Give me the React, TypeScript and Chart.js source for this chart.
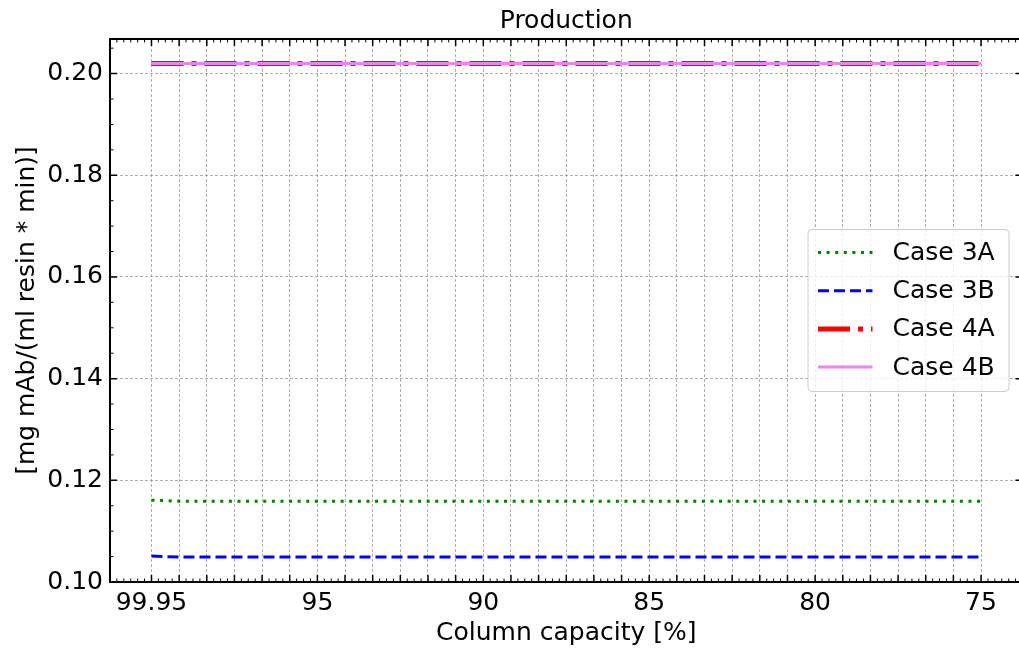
import { useEffect, useRef } from 'react';
import { Chart, registerables } from 'chart.js';

Chart.register(...registerables);

// Column capacity [%] (x values, plotted on a reversed axis)
const capacity = [
  99.95, 99.1183, 98.2867, 97.455, 96.6233, 95.7917, 94.96, 94.1283, 93.2967, 92.465,
  91.6333, 90.8017, 89.97, 89.1383, 88.3067, 87.475, 86.6433, 85.8117, 84.98, 84.1483,
  83.3167, 82.485, 81.6533, 80.8217, 79.99, 79.1583, 78.3267, 77.495, 76.6633, 75.8317,
  75.0,
];

// Labels shown at the major x ticks (one per capacity value)
const xTickLabels = [
  '99.95', '', '', '', '', '', '95', '', '', '', '', '', '90', '', '', '', '', '', '85',
  '', '', '', '', '', '80', '', '', '', '', '', '75',
];

const yTicks = [0.1, 0.12, 0.14, 0.16, 0.18, 0.2];

const case3A = [
  0.1161, 0.1159, 0.1159, 0.1159, 0.1159, 0.1159, 0.1159, 0.1159, 0.1159, 0.1159,
  0.1159, 0.1159, 0.1159, 0.1159, 0.1159, 0.1159, 0.1159, 0.1159, 0.1159, 0.1159,
  0.1159, 0.1159, 0.1159, 0.1159, 0.1159, 0.1159, 0.1159, 0.1159, 0.1159, 0.1159,
  0.1159,
];
const case3B = [
  0.1051, 0.1049, 0.1049, 0.1049, 0.1049, 0.1049, 0.1049, 0.1049, 0.1049, 0.1049,
  0.1049, 0.1049, 0.1049, 0.1049, 0.1049, 0.1049, 0.1049, 0.1049, 0.1049, 0.1049,
  0.1049, 0.1049, 0.1049, 0.1049, 0.1049, 0.1049, 0.1049, 0.1049, 0.1049, 0.1049,
  0.1049,
];
const case4A = [
  0.202, 0.202, 0.202, 0.202, 0.202, 0.202, 0.202, 0.202, 0.202, 0.202,
  0.202, 0.202, 0.202, 0.202, 0.202, 0.202, 0.202, 0.202, 0.202, 0.202,
  0.202, 0.202, 0.202, 0.202, 0.202, 0.202, 0.202, 0.202, 0.202, 0.202,
  0.202,
];
const case4B = [
  0.202, 0.202, 0.202, 0.202, 0.202, 0.202, 0.202, 0.202, 0.202, 0.202,
  0.202, 0.202, 0.202, 0.202, 0.202, 0.202, 0.202, 0.202, 0.202, 0.202,
  0.202, 0.202, 0.202, 0.202, 0.202, 0.202, 0.202, 0.202, 0.202, 0.202,
  0.202,
];

const seriesNames = ['Case 3A', 'Case 3B', 'Case 4A', 'Case 4B'];

const FONT = '"DejaVu Sans", "Liberation Sans", sans-serif';

const toPoints = (ys: number[]) => ys.map((v, i) => ({ x: capacity[i], y: v }));

const framePlugin = {
  id: 'frame',
  afterDraw(chart: any) {
    const { ctx, chartArea: a, scales } = chart;
    const xs = scales.x;
    const ys = scales.y;
    ctx.save();
    ctx.strokeStyle = '#000';

    const MAJ = 7;
    const MIN = 3.5;
    const drawV = (px: number, len: number, w: number) => {
      ctx.lineWidth = w;
      ctx.beginPath();
      ctx.moveTo(px, a.bottom);
      ctx.lineTo(px, a.bottom - len);
      ctx.moveTo(px, a.top);
      ctx.lineTo(px, a.top + len);
      ctx.stroke();
    };
    const drawH = (py: number, len: number, w: number) => {
      ctx.lineWidth = w;
      ctx.beginPath();
      ctx.moveTo(a.left, py);
      ctx.lineTo(a.left + len, py);
      ctx.moveTo(a.right, py);
      ctx.lineTo(a.right - len, py);
      ctx.stroke();
    };

    // x ticks
    const n = capacity.length - 1;
    const d = (capacity[0] - capacity[n]) / n / 4;
    const lo = Math.min(xs.min, xs.max);
    const hi = Math.max(xs.min, xs.max);
    const kStart = Math.ceil((lo - capacity[n]) / d);
    const kEnd = Math.floor((hi - capacity[n]) / d);
    for (let k = kStart; k <= kEnd; k++) {
      const isMajor = k % 4 === 0 && k >= 0 && k <= n * 4;
      if (isMajor) continue;
      const v = capacity[n] + k * d;
      drawV(xs.getPixelForValue(v), MIN, 1);
    }
    capacity.forEach((v) => drawV(xs.getPixelForValue(v), MAJ, 1.5));

    // y ticks
    const ystep = (yTicks[1] - yTicks[0]) / 4;
    for (let k = 0; ; k++) {
      const v = yTicks[0] + k * ystep;
      if (v > ys.max + 1e-9) break;
      if (v < ys.min - 1e-9) continue;
      const major = k % 4 === 0;
      drawH(ys.getPixelForValue(v), major ? MAJ : MIN, major ? 1.5 : 1);
    }

    // spines
    ctx.lineWidth = 2;
    ctx.strokeRect(a.left, a.top, a.right - a.left, a.bottom - a.top);

    // legend (center right, inside axes)
    const boxW = 201;
    const boxH = 162;
    const bx = a.right - 13.5 - boxW;
    const by = (a.top + a.bottom) / 2 - boxH / 2;
    const r = 4;
    ctx.beginPath();
    ctx.moveTo(bx + r, by);
    ctx.lineTo(bx + boxW - r, by);
    ctx.quadraticCurveTo(bx + boxW, by, bx + boxW, by + r);
    ctx.lineTo(bx + boxW, by + boxH - r);
    ctx.quadraticCurveTo(bx + boxW, by + boxH, bx + boxW - r, by + boxH);
    ctx.lineTo(bx + r, by + boxH);
    ctx.quadraticCurveTo(bx, by + boxH, bx, by + boxH - r);
    ctx.lineTo(bx, by + r);
    ctx.quadraticCurveTo(bx, by, bx + r, by);
    ctx.closePath();
    ctx.fillStyle = 'rgba(255,255,255,0.8)';
    ctx.fill();
    ctx.lineWidth = 1;
    ctx.strokeStyle = '#cccccc';
    ctx.stroke();

    chart.data.datasets.forEach((ds: any, i: number) => {
      const rowY = by + 23 + i * 38.2;
      ctx.save();
      ctx.strokeStyle = ds.borderColor;
      ctx.lineWidth = ds.borderWidth;
      ctx.lineCap = 'butt';
      ctx.setLineDash(ds.borderDash || []);
      ctx.beginPath();
      ctx.moveTo(bx + 10, rowY);
      ctx.lineTo(bx + 64.5, rowY);
      ctx.stroke();
      ctx.restore();
      ctx.fillStyle = '#000';
      ctx.font = `25px ${FONT}`;
      ctx.textAlign = 'left';
      ctx.textBaseline = 'middle';
      ctx.fillText(ds.label, bx + 84.5, rowY + 1);
    });

    ctx.restore();
  },
};

export default function App() {
  const canvasRef = useRef<HTMLCanvasElement | null>(null);

  useEffect(() => {
    document.body.style.margin = '0';
    const canvas = canvasRef.current;
    if (!canvas) return;
    const chart = new Chart(canvas, {
      type: 'line',
      data: {
        datasets: [
          {
            label: seriesNames[0],
            data: toPoints(case3A),
            borderColor: '#008000',
            borderWidth: 3,
            borderDash: [3, 5.6],
            pointRadius: 0,
            fill: false,
            order: 4,
          },
          {
            label: seriesNames[1],
            data: toPoints(case3B),
            borderColor: '#0000ff',
            borderWidth: 3,
            borderDash: [11, 5],
            pointRadius: 0,
            fill: false,
            order: 3,
          },
          {
            label: seriesNames[2],
            data: toPoints(case4A),
            borderColor: '#ff0000',
            borderWidth: 5,
            borderDash: [32, 8, 5, 8],
            pointRadius: 0,
            fill: false,
            order: 2,
          },
          {
            label: seriesNames[3],
            data: toPoints(case4B),
            borderColor: '#ee82ee',
            borderWidth: 3,
            pointRadius: 0,
            fill: false,
            order: 1,
          },
        ],
      },
      options: {
        animation: false,
        responsive: false,
        devicePixelRatio: 1,
        layout: { padding: { left: 0, right: 1.5, top: 0, bottom: 0 } },
        plugins: {
          legend: { display: false },
          tooltip: { enabled: false },
          title: {
            display: true,
            text: 'Production',
            color: '#000',
            fullSize: false,
            font: { family: FONT, size: 25, weight: 'normal' },
            padding: { top: 6, bottom: 3 },
          },
        },
        scales: {
          x: {
            type: 'linear',
            reverse: true,
            min: 73.7525,
            max: 101.1975,
            afterBuildTicks: (scale: any) => {
              scale.ticks = capacity.map((v) => ({ value: v }));
            },
            afterFit: (scale: any) => {
              scale.height = 67;
            },
            ticks: {
              autoSkip: false,
              maxRotation: 0,
              padding: 6,
              color: '#000',
              font: { family: FONT, size: 25 },
              callback: (_v: any, i: number) => xTickLabels[i],
            },
            grid: {
              drawTicks: false,
              color: '#999999',
              lineWidth: 0.8,
            },
            border: { display: false, dash: [3, 2] },
            title: {
              display: true,
              text: 'Column capacity [%]',
              color: '#000',
              font: { family: FONT, size: 25 },
              padding: { top: 0, bottom: 1 },
            },
          },
          y: {
            type: 'linear',
            min: 0.1,
            max: 0.2068,
            afterBuildTicks: (scale: any) => {
              scale.ticks = yTicks.map((v) => ({ value: v }));
            },
            afterFit: (scale: any) => {
              scale.width = 110;
            },
            ticks: {
              padding: 7,
              color: '#000',
              font: { family: FONT, size: 25 },
              callback: (v: any) => Number(v).toFixed(2),
            },
            grid: {
              drawTicks: false,
              color: '#999999',
              lineWidth: 0.8,
            },
            border: { display: false, dash: [3, 2] },
            title: {
              display: true,
              text: '[mg mAb/(ml resin * min)]',
              color: '#000',
              font: { family: FONT, size: 25 },
              padding: { top: 12, bottom: 0 },
            },
          },
        },
      },
      plugins: [framePlugin],
    } as any);
    return () => chart.destroy();
  }, []);

  return (
    <div
      style={{
        position: 'fixed',
        left: 0,
        top: 0,
        width: 1019,
        height: 649,
        overflow: 'hidden',
        background: '#fff',
      }}
    >
      <canvas ref={canvasRef} width={1024} height={649} style={{ display: 'block' }} />
    </div>
  );
}
